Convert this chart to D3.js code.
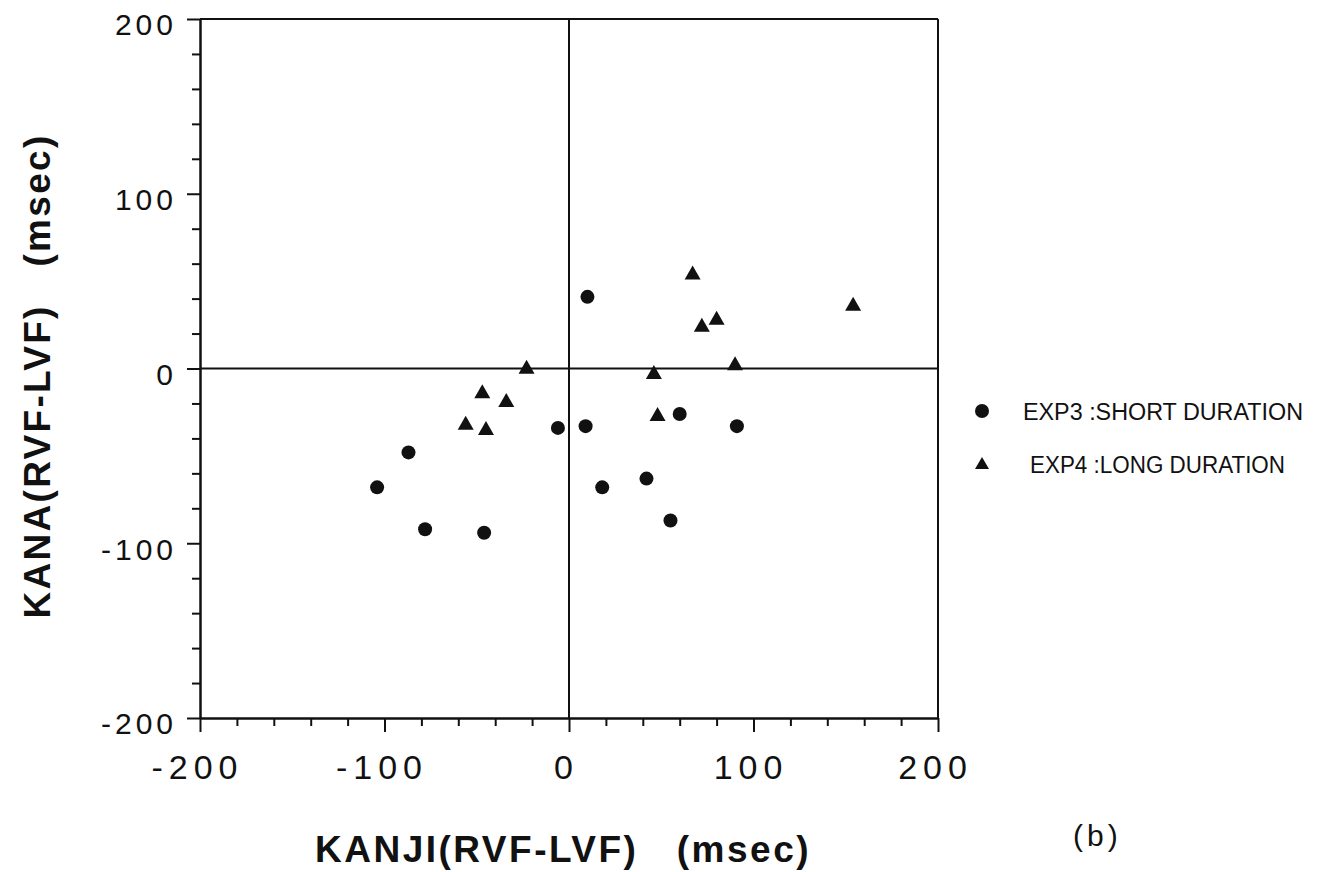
<!DOCTYPE html>
<html><head><meta charset="utf-8">
<script src="https://cdn.jsdelivr.net/npm/d3@7"></script>
<style>body{margin:0;background:#fff} svg{display:block}</style>
</head><body>
<svg id="chart" width="1319" height="872"></svg>
<script>
// ---- data ----
const seriesNames = ["EXP3 :SHORT DURATION", "EXP4 :LONG DURATION"];
// EXP3 (circles): KANJI(RVF-LVF) on x, KANA(RVF-LVF) on y, msec
const exp3Kanji = [10, -104, -87, -78, -46, -6, 9, 18, 42, 55, 60, 91];
const exp3Kana  = [41, -68, -48, -92, -94, -34, -33, -68, -63, -87, -26, -33];
// EXP4 (triangles)
const exp4Kanji = [-23, -47, -34, -56, -45, 46, 48, 67, 72, 80, 90, 154];
const exp4Kana  = [1, -13, -18, -31, -34, -2, -26, 55, 25, 29, 3, 37];
const majorTicks = [-200, -100, 0, 100, 200];
const majorTickLabels = ["-200", "-100", "0", "100", "200"];
const minorTicks = [-180, -160, -140, -120, -80, -60, -40, -20, 20, 40, 60, 80, 120, 140, 160, 180];
const xTitle = "KANJI(RVF-LVF)   (msec)";
const yTitle = "KANA(RVF-LVF)   (msec)";
const panelLabel = "(b)";

// ---- drawing ----
const svg = d3.select("#chart");
const ink = "#111";
const x = d3.scaleLinear().domain([-200, 200]).range([200, 938]);
const y = d3.scaleLinear().domain([-200, 200]).range([718, 19]);
const fmt = d => majorTickLabels[majorTicks.indexOf(d)];

// minor ticks
svg.append("g").attr("transform", `translate(0,${y(-200)})`)
  .call(d3.axisBottom(x).tickValues(minorTicks).tickSize(8).tickSizeOuter(0).tickFormat(""));
svg.append("g").attr("transform", `translate(${x(-200)},0)`)
  .call(d3.axisLeft(y).tickValues(minorTicks).tickSize(8).tickSizeOuter(0).tickFormat(""));

// major ticks + labels
const gx = svg.append("g").attr("transform", `translate(0,${y(-200)})`)
  .call(d3.axisBottom(x).tickValues(majorTicks).tickFormat(fmt).tickSize(14).tickSizeOuter(0).tickPadding(23));
const gy = svg.append("g").attr("transform", `translate(${x(-200)},0)`)
  .call(d3.axisLeft(y).tickValues(majorTicks).tickFormat(fmt).tickSize(13).tickSizeOuter(0).tickPadding(10));

svg.selectAll(".domain, .tick line").attr("stroke", ink).attr("stroke-width", 2);
gx.selectAll("text").attr("fill", ink).attr("font-family", "'Liberation Sans', Arial, sans-serif")
  .attr("font-size", 34).attr("letter-spacing", 6).attr("dx", -3);
gy.selectAll("text").attr("fill", ink).attr("font-family", "'Liberation Sans', Arial, sans-serif")
  .attr("font-size", 30).attr("letter-spacing", 4).attr("dy", "0.53em");

// frame top & right
svg.append("line").attr("x1", x(-200)).attr("x2", x(200)).attr("y1", y(200)).attr("y2", y(200))
  .attr("stroke", ink).attr("stroke-width", 2);
svg.append("line").attr("x1", x(200)).attr("x2", x(200)).attr("y1", y(200)).attr("y2", y(-200))
  .attr("stroke", ink).attr("stroke-width", 2);
// zero lines
svg.append("line").attr("x1", x(-200)).attr("x2", x(200)).attr("y1", y(0)).attr("y2", y(0))
  .attr("stroke", ink).attr("stroke-width", 2);
svg.append("line").attr("x1", x(0)).attr("x2", x(0)).attr("y1", y(200)).attr("y2", y(-200))
  .attr("stroke", ink).attr("stroke-width", 2);

// markers
const triPath = (s, h) => `M0,${-h/2}L${s/2},${h/2}L${-s/2},${h/2}Z`;
const exp3 = exp3Kanji.map((v, i) => ({kanji: v, kana: exp3Kana[i]}));
const exp4 = exp4Kanji.map((v, i) => ({kanji: v, kana: exp4Kana[i]}));
svg.append("g").selectAll("circle").data(exp3).join("circle")
  .attr("cx", d => x(d.kanji)).attr("cy", d => y(d.kana)).attr("r", 7).attr("fill", ink);
svg.append("g").selectAll("path").data(exp4).join("path")
  .attr("transform", d => `translate(${x(d.kanji)},${y(d.kana)})`)
  .attr("d", triPath(16, 14)).attr("fill", ink);

// axis titles
svg.append("text").attr("x", 563).attr("y", 862).attr("text-anchor", "middle")
  .attr("font-family", "'Liberation Sans', Arial, sans-serif").attr("font-weight", "bold")
  .attr("font-size", 37).attr("letter-spacing", 2.5).style("white-space", "pre")
  .attr("fill", ink).text(xTitle);
svg.append("text").attr("transform", "translate(50,376) rotate(-90)").attr("text-anchor", "middle")
  .attr("font-family", "'Liberation Sans', Arial, sans-serif").attr("font-weight", "bold")
  .attr("font-size", 37).attr("letter-spacing", 2.3).style("white-space", "pre")
  .attr("fill", ink).text(yTitle);

// panel label
svg.append("text").attr("x", 1073).attr("y", 846)
  .attr("font-family", "'Liberation Sans', Arial, sans-serif").attr("font-size", 30)
  .attr("letter-spacing", 4).attr("fill", ink).text(panelLabel);

// legend
const lg = svg.append("g").attr("font-family", "'Liberation Sans', Arial, sans-serif").attr("fill", ink);
lg.append("circle").attr("cx", 982).attr("cy", 411).attr("r", 7).attr("fill", ink);
lg.append("text").attr("x", 1023).attr("y", 420).attr("font-size", 23.5)
  .attr("textLength", 280).attr("lengthAdjust", "spacingAndGlyphs").text(seriesNames[0]);
lg.append("path").attr("transform", "translate(982,463)").attr("d", triPath(14, 12)).attr("fill", ink);
lg.append("text").attr("x", 1030).attr("y", 473).attr("font-size", 23.5)
  .attr("textLength", 255).attr("lengthAdjust", "spacingAndGlyphs").text(seriesNames[1]);
</script>
</body></html>
